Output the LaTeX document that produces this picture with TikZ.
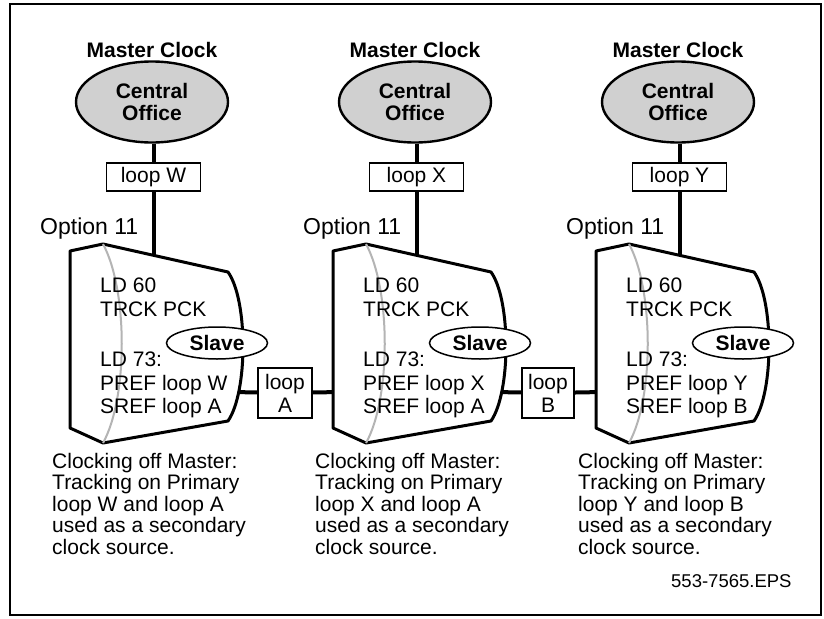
\documentclass[tikz,border=0pt]{standalone}
\usepackage{fontspec}
\setmainfont{Liberation Sans}
\usetikzlibrary{shapes.geometric}
\definecolor{cofill}{HTML}{D0D0D0}
\definecolor{shadeline}{HTML}{B4B4B4}
\begin{document}
\begin{tikzpicture}[x=1pt,y=-1pt,
  txt/.style={font=\fontsize{21}{23.5}\selectfont, inner sep=0pt},
  desc/.style={font=\fontsize{21}{21.4}\selectfont, inner sep=0pt, anchor=north west, align=left},
  mclabel/.style={font=\fontsize{21}{23}\selectfont\bfseries, inner sep=0pt, anchor=base},
  coffice/.style={ellipse, draw, line width=2.4pt, fill=cofill, minimum width=152pt, minimum height=81pt, inner sep=0pt, align=center, font=\fontsize{21}{22}\selectfont\bfseries},
  loopbox/.style={draw, line width=1.1pt, fill=white, inner sep=0pt, align=center, font=\fontsize{21}{23}\selectfont},
  conn/.style={line width=4pt},
  cabinet/.style={draw, line width=3pt, fill=white, line join=round},
  shadecurve/.style={draw=shadeline, line width=2pt},
  slave/.style={ellipse, draw, line width=1.5pt, fill=white, minimum width=101pt, minimum height=32pt, inner sep=0pt, font=\fontsize{21}{23}\selectfont\bfseries},
  optlabel/.style={font=\fontsize{23}{25}\selectfont, inner sep=0pt, anchor=base west}
]
\useasboundingbox (0,0) rectangle (824,618);
\draw[line width=2.5pt] (10,4) rectangle (821,615);

% loops between the cabinets
\node[loopbox, minimum width=54pt, minimum height=50pt] (loopA) at (285,393) {loop\\A};
\node[loopbox, minimum width=52pt, minimum height=50pt] (loopB) at (548,393) {loop\\B};
\coordinate (r1) at (232,392);
\coordinate (l2) at (340,392);
\coordinate (r2) at (495,392);
\coordinate (l3) at (603,392);
\draw[conn] (r1) -- (loopA);
\draw[conn] (loopA) -- (l2);
\draw[conn] (r2) -- (loopB);
\draw[conn] (loopB) -- (l3);

\foreach \n/\dx/\pl/\sl in {1/0/W/A, 2/263/X/A, 3/526/Y/B} {
  \begin{scope}[shift={(\dx,0)}]
    \node[mclabel] (mc\n) at (152,57) {Master Clock};
    \node[coffice] (co\n) at (152,102) {Central\\Office};
    \node[loopbox, minimum width=94pt, minimum height=28pt] (lw\n) at (153.5,177) {loop \pl};
    \coordinate (st\n) at (153.5,264);
    \draw[conn] (co\n.south -| lw\n.north) -- (lw\n.north);
    \draw[conn] (lw\n) -- (st\n);
    \node[optlabel] (opt\n) at (40,234) {Option 11};
    \draw[cabinet] (70,251) -- (103,244) -- (228,272)
      .. controls (248,300) and (248,392) .. (228,421)
      -- (103,443) -- (70,428) -- cycle;
    \draw[shadecurve] (103,244) .. controls (128,290) and (128,398) .. (103,443);
    \node[txt, anchor=north west, align=left] (ta\n) at (100,278) {LD 60\\TRCK PCK};
    \node[txt, anchor=north west, align=left] (tb\n) at (100,352) {LD 73:\\PREF loop \pl\\SREF loop \sl};
    \node[slave] (sl\n) at (217,343) {Slave};
    \node[desc] (d\n) at (52,453) {Clocking off Master:\\Tracking on Primary\\loop \pl{} and loop \sl\\used as a secondary\\clock source.};
  \end{scope}
}
\node[font=\fontsize{18.5}{20}\selectfont, inner sep=0pt, anchor=base west] (eps) at (671,587) {553-7565.EPS};
\end{tikzpicture}
\end{document}
